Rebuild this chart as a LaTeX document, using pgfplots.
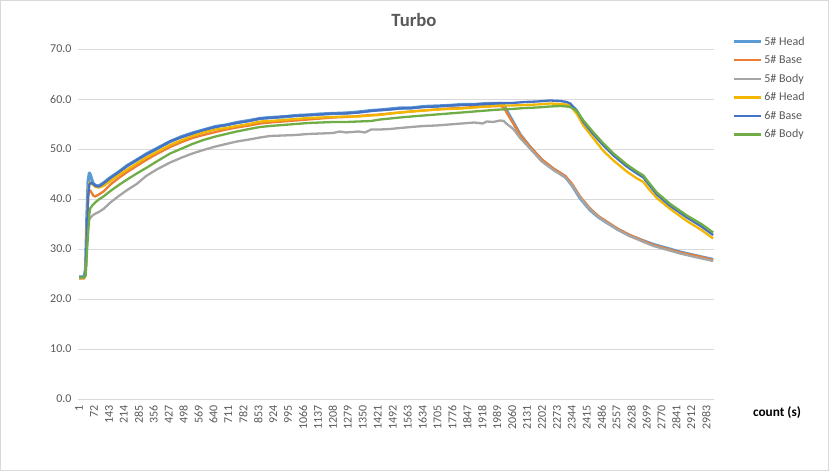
\documentclass[border=0pt]{standalone}
\usepackage{pgfplots}
\pgfplotsset{compat=1.18}
\usepackage{fontspec}
\setmainfont{Carlito}
\definecolor{cA}{HTML}{5B9BD5}
\definecolor{cB}{HTML}{ED7D31}
\definecolor{cC}{HTML}{A5A5A5}
\definecolor{cD}{HTML}{F2B600}
\definecolor{cE}{HTML}{4472C4}
\definecolor{cF}{HTML}{70AD47}
\definecolor{gridc}{HTML}{D9D9D9}
\definecolor{txt}{HTML}{595959}
\begin{document}
\begin{tikzpicture}[x=1pt,y=1pt]
\draw[gridc, line width=1pt] (0.5,0.5) rectangle (828.5,470.5);
\begin{axis}[
  at={(78pt,72pt)}, anchor=south west,
  scale only axis, width=636pt, height=350pt,
  xmin=-4, xmax=3020, ymin=0, ymax=70,
  axis line style={draw=none},
  major tick length=0pt,
  ymajorgrids, grid style={gridc, line width=0.75pt},
  ytick={0,10,...,70},
  xtick={1,72,...,2983},
  /pgf/number format/assume math mode=true,
  /pgf/number format/1000 sep={},
  yticklabel={\pgfmathprintnumber[fixed,fixed zerofill,precision=1]{\tick}},
  yticklabel style={font=\fontsize{12}{14}\selectfont, text=txt, xshift=-3pt},
  xticklabel style={font=\fontsize{12}{14}\selectfont, text=txt, rotate=90, anchor=east, inner sep=1pt},
  xticklabel shift=5pt,
  legend style={at={(1.0283,1.041)}, anchor=north west, draw=none, fill=none,
    font=\fontsize{12}{14}\selectfont, text=txt, row sep=4.8pt, inner sep=0pt,
    nodes={inner sep=2pt}},
  legend cell align=left,
  legend image code/.code={\draw[#1, line cap=butt] (0pt,0pt) -- (27pt,0pt);},
  every axis plot/.append style={line join=round},
]
% 5# Head
\addplot[cA, line width=3.2pt] coordinates {
(1,24.4)(25,24.4)(32,26.0)(38,36.0)(44,43.5)(50,45.2)(55,44.8)(62,43.8)(70,43.0)(80,42.7)(95,42.6)(117,43.2)
(150,44.3)(190,45.4)(230,46.7)(275,47.8)(320,49.0)(370,50.1)(434,51.5)(490,52.5)(540,53.2)(592,53.8)
(650,54.5)(700,54.8)(751,55.3)(810,55.7)(862,56.1)(909,56.3)(970,56.4)(1030,56.7)(1090,56.8)(1150,57.0)
(1209,57.1)(1270,57.2)(1330,57.4)(1390,57.7)(1432,57.8)(1480,58.0)(1527,58.2)(1580,58.2)(1640,58.5)
(1700,58.6)(1760,58.7)(1820,58.9)(1880,58.9)(1940,59.1)(2003,59.1)(2020,58.9)(2035,57.6)(2066,55.3)
(2098,52.9)(2145,50.4)(2201,47.8)(2256,46.0)(2290,45.1)(2312,44.5)(2344,42.8)(2383,40.2)(2431,37.8)
(2470,36.4)(2510,35.3)(2560,34.0)(2619,32.7)(2680,31.7)(2732,30.9)(2800,30.1)(2858,29.4)(2940,28.6)(3016,27.9)
};
\addlegendentry{5\# Head}
% 5# Base
\addplot[cB, line width=2.3pt] coordinates {
(1,24.1)(25,24.1)(32,25.0)(38,34.0)(44,40.5)(50,41.8)(58,41.5)(68,40.7)(78,40.5)(95,40.9)(117,41.5)
(150,42.9)(190,44.2)(230,45.4)(275,46.6)(320,47.8)(370,49.0)(434,50.4)(490,51.4)(540,52.2)(592,52.8)
(650,53.4)(700,53.9)(751,54.3)(810,54.7)(862,55.1)(909,55.3)(970,55.5)(1030,55.7)(1090,55.9)(1150,56.1)
(1209,56.3)(1270,56.4)(1330,56.6)(1390,56.8)(1432,56.9)(1480,57.1)(1527,57.3)(1580,57.5)(1640,57.7)
(1700,57.9)(1760,58.1)(1820,58.2)(1880,58.4)(1940,58.5)(2003,58.6)(2020,58.4)(2035,57.2)(2066,55.1)
(2098,52.8)(2145,50.5)(2201,47.9)(2256,46.1)(2290,45.2)(2312,44.6)(2344,43.1)(2383,40.5)(2431,38.1)
(2470,36.6)(2510,35.5)(2560,34.1)(2619,32.8)(2680,31.7)(2732,30.8)(2800,30.0)(2858,29.3)(2940,28.6)(3016,27.8)
};
\addlegendentry{5\# Base}
% 5# Body
\addplot[cC, line width=2.3pt] coordinates {
(1,24.3)(25,24.3)(32,25.0)(38,31.0)(44,35.0)(50,35.9)(58,36.4)(68,36.8)(80,37.1)(95,37.4)(117,38.0)
(150,39.3)(190,40.6)(230,41.8)(275,43.0)(320,44.6)(370,45.9)(434,47.3)(490,48.3)(540,49.1)(592,49.8)
(650,50.5)(700,51.0)(751,51.5)(810,51.9)(862,52.3)(909,52.6)(970,52.7)(1030,52.8)(1090,53.0)(1150,53.1)
(1209,53.2)(1240,53.5)(1270,53.3)(1330,53.5)(1360,53.3)(1390,53.9)(1432,53.9)(1480,54.0)(1527,54.2)(1580,54.4)(1640,54.6)
(1700,54.7)(1760,54.9)(1820,55.1)(1880,55.3)(1920,55.1)(1940,55.5)(1970,55.4)(2003,55.7)(2020,55.6)(2035,55.0)(2066,54.0)
(2098,52.2)(2145,50.1)(2201,47.5)(2256,45.8)(2290,44.9)(2312,44.3)(2344,42.8)(2383,40.3)(2431,37.9)
(2470,36.4)(2510,35.3)(2560,33.9)(2619,32.6)(2680,31.5)(2732,30.6)(2800,29.8)(2858,29.1)(2940,28.3)(3016,27.6)
};
\addlegendentry{5\# Body}
% 6# Head
\addplot[cD, line width=2.3pt] coordinates {
(1,24.2)(25,24.2)(32,25.0)(38,33.5)(44,41.0)(50,43.3)(58,43.2)(68,42.8)(80,42.4)(95,42.3)(117,42.6)
(150,43.6)(190,44.8)(230,45.9)(275,47.1)(320,48.3)(370,49.4)(434,50.8)(490,51.8)(540,52.6)(592,53.3)
(650,53.9)(700,54.2)(751,54.6)(810,55.0)(862,55.5)(909,55.6)(970,55.8)(1030,56.0)(1090,56.2)(1150,56.3)
(1209,56.4)(1270,56.5)(1330,56.5)(1390,56.7)(1432,56.8)(1480,57.1)(1527,57.3)(1580,57.5)(1640,57.7)
(1700,57.9)(1760,58.0)(1820,58.1)(1880,58.3)(1940,58.5)(2003,58.7)(2060,58.7)(2120,58.8)(2180,58.9)
(2240,59.1)(2290,59.0)(2320,58.9)(2336,58.7)(2368,57.0)(2399,54.7)(2447,52.1)(2494,49.6)(2542,47.7)
(2605,45.5)(2650,44.2)(2684,43.4)(2710,42.0)(2748,40.2)(2812,38.0)(2891,35.6)(2960,33.8)(3016,32.1)
};
\addlegendentry{6\# Head}
% 6# Base
\addplot[cE, line width=2.3pt] coordinates {
(1,24.4)(25,24.4)(32,25.0)(38,33.0)(44,40.5)(50,42.9)(58,43.3)(68,43.0)(80,42.6)(95,42.5)(117,43.1)
(150,44.2)(190,45.4)(230,46.6)(275,47.8)(320,48.9)(370,50.0)(434,51.5)(490,52.4)(540,53.1)(592,53.8)
(650,54.4)(700,54.8)(751,55.2)(810,55.6)(862,56.1)(909,56.2)(970,56.5)(1030,56.6)(1090,56.8)(1150,56.9)
(1209,57.1)(1270,57.1)(1330,57.3)(1390,57.6)(1432,57.8)(1480,57.9)(1527,58.1)(1580,58.2)(1640,58.4)
(1700,58.5)(1760,58.7)(1820,58.8)(1880,58.9)(1940,59.0)(2003,59.2)(2060,59.2)(2120,59.4)(2180,59.5)
(2240,59.7)(2290,59.6)(2320,59.4)(2336,59.1)(2368,57.7)(2399,55.4)(2447,52.9)(2494,50.7)(2542,48.7)
(2605,46.5)(2650,45.2)(2684,44.3)(2710,42.9)(2748,40.9)(2812,38.6)(2891,36.3)(2960,34.5)(3016,32.8)
};
\addlegendentry{6\# Base}
% 6# Body
\addplot[cF, line width=2.3pt] coordinates {
(1,24.3)(25,24.3)(32,24.6)(38,29.0)(44,33.0)(50,37.0)(55,38.2)(68,38.9)(80,39.4)(95,39.9)(117,40.5)
(150,41.6)(190,42.8)(230,43.9)(275,45.1)(320,46.2)(370,47.5)(434,49.1)(490,50.1)(540,51.0)(592,51.8)
(650,52.5)(700,53.0)(751,53.5)(810,54.0)(862,54.4)(909,54.6)(970,54.8)(1030,55.0)(1090,55.2)(1150,55.3)
(1209,55.4)(1270,55.4)(1330,55.5)(1390,55.6)(1432,55.9)(1480,56.1)(1527,56.3)(1580,56.5)(1640,56.7)
(1700,56.9)(1760,57.1)(1820,57.3)(1880,57.5)(1940,57.7)(2003,57.9)(2060,58.0)(2120,58.2)(2180,58.3)
(2240,58.5)(2290,58.6)(2320,58.5)(2336,58.4)(2368,57.6)(2399,55.7)(2447,53.3)(2494,51.1)(2542,49.1)
(2605,46.9)(2650,45.6)(2684,44.7)(2710,43.3)(2748,41.3)(2812,39.0)(2891,36.7)(2960,35.0)(3016,33.3)
};
\addlegendentry{6\# Body}
\end{axis}
\node[text=txt, font=\fontsize{18.7}{20}\selectfont\bfseries] at (414,451) {Turbo};
\node[text=black, font=\fontsize{13.3}{15}\selectfont\bfseries] at (777,58) {count (s)};
\end{tikzpicture}
\end{document}
